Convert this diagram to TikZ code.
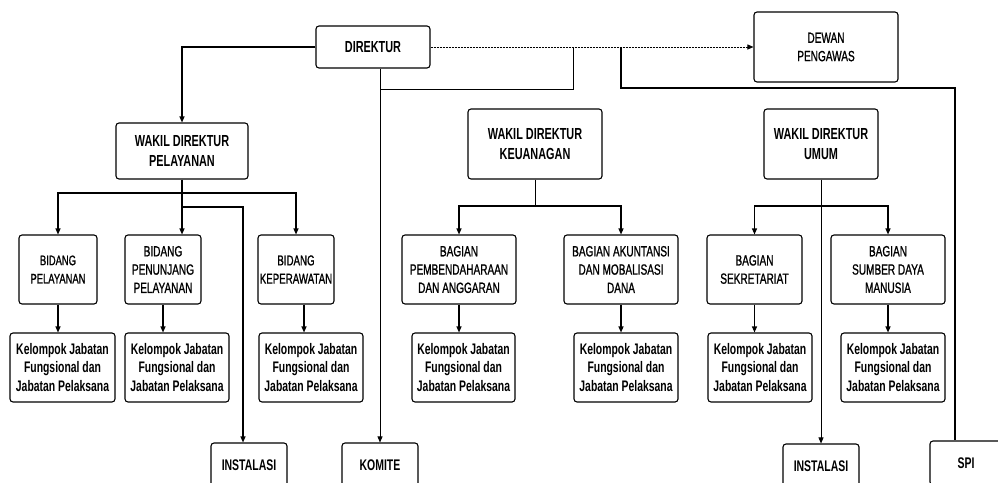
\documentclass[tikz,border=0pt]{standalone}
\usepackage{fontspec}
\setmainfont[FakeStretch=0.68]{Liberation Sans}
\newfontfamily\medfont[FakeStretch=0.68,FakeBold=1.0]{Liberation Sans}
\usetikzlibrary{arrows.meta}
\begin{document}
\begin{tikzpicture}[x=1pt,y=-1pt,
  box/.style={draw, line width=1.1pt, rounded corners=3pt, align=center, inner sep=1pt},
  hdr/.style={box, font=\fontsize{16}{19.3}\selectfont\bfseries},
  sub/.style={box, font=\medfont\fontsize{14.8}{18.3}\selectfont},
  kj/.style={box, font=\fontsize{15.3}{18.5}\selectfont\bfseries, minimum height=69pt},
  low/.style={hdr, minimum width=76pt, minimum height=44pt, font=\fontsize{15.4}{18}\selectfont\bfseries},
  conn/.style={line width=1.1pt},
  thinconn/.style={line width=0.7pt},
  arr/.style={-{Triangle[length=6pt,width=5pt]}},
  dots/.style={line width=0.9pt, dash pattern=on 2pt off 1pt},
]
\useasboundingbox (0,0) rectangle (998,482);
\fill[white] (0,0) rectangle (998,482);

% top level
\node[hdr, minimum width=114pt, minimum height=42pt] (dir) at (373,47) {DIREKTUR};
\node[sub, minimum width=144pt, minimum height=70pt] (dew) at (826,47) {DEWAN\\PENGAWAS};

% wakil direktur
\node[hdr, minimum width=132pt, minimum height=56pt] (wdp) at (182,151) {WAKIL DIREKTUR\\PELAYANAN};
\node[hdr, minimum width=134pt, minimum height=70pt] (wdk) at (535,144) {WAKIL DIREKTUR\\KEUANAGAN};
\node[hdr, minimum width=114pt, minimum height=70pt] (wdu) at (821,144) {WAKIL DIREKTUR\\UMUM};

% bidang / bagian
\node[sub, minimum width=78pt, minimum height=69pt, font=\medfont\fontsize{13.8}{18.3}\selectfont] (bp) at (58,269.5) {BIDANG\\PELAYANAN};
\node[sub, minimum width=76pt, minimum height=69pt] (bpp) at (163,269.5) {BIDANG\\PENUNJANG\\PELAYANAN};
\node[sub, minimum width=76pt, minimum height=69pt, inner sep=0pt, font=\medfont\fontsize{14.3}{18.3}\selectfont] (bk) at (296,269.5) {BIDANG\\KEPERAWATAN};
\node[sub, minimum width=114pt, minimum height=69pt] (bpa) at (459,269.5) {BAGIAN\\PEMBENDAHARAAN\\DAN ANGGARAN};
\node[sub, minimum width=114pt, minimum height=69pt] (bamd) at (621,269.5) {BAGIAN AKUNTANSI\\DAN MOBALISASI\\DANA};
\node[sub, minimum width=95pt, minimum height=69pt] (bs) at (754.5,269.5) {BAGIAN\\SEKRETARIAT};
\node[sub, minimum width=114pt, minimum height=69pt] (bsdm) at (888,269.5) {BAGIAN\\SUMBER DAYA\\MANUSIA};

% kelompok jabatan
\node[kj, minimum width=105pt] (kj1) at (62.5,367.5) {Kelompok Jabatan\\Fungsional dan\\Jabatan Pelaksana};
\node[kj, minimum width=104pt] (kj2) at (177,367.5) {Kelompok Jabatan\\Fungsional dan\\Jabatan Pelaksana};
\node[kj, minimum width=104pt] (kj3) at (311,367.5) {Kelompok Jabatan\\Fungsional dan\\Jabatan Pelaksana};
\node[kj, minimum width=103pt] (kj4) at (463.5,367.5) {Kelompok Jabatan\\Fungsional dan\\Jabatan Pelaksana};
\node[kj, minimum width=104pt] (kj5) at (626,367.5) {Kelompok Jabatan\\Fungsional dan\\Jabatan Pelaksana};
\node[kj, minimum width=104pt] (kj6) at (760,367.5) {Kelompok Jabatan\\Fungsional dan\\Jabatan Pelaksana};
\node[kj, minimum width=104pt] (kj7) at (893,367.5) {Kelompok Jabatan\\Fungsional dan\\Jabatan Pelaksana};

% bottom boxes
\node[low] (inst1) at (249,465) {INSTALASI};
\node[low] (komite) at (380,465) {KOMITE};
\node[low] (inst2) at (821,466) {INSTALASI};
\node[low, minimum width=72pt] (spi) at (966,463) {SPI};

% connectors from direktur
\draw[conn, arr] (dir.west) -| (wdp.north);
\draw[dots, -{Triangle[length=6pt,width=5pt]}] (dir.east) -- (dew.west);
\coordinate (d1) at (573,47);
\coordinate (d2) at (621,47);
\coordinate (r1) at (621,88);
\coordinate (s1) at ([xshift=-11pt]spi.north);
\draw[thinconn, arr] (dir.south -| komite.north) -- (komite.north);
\draw[thinconn] (komite.north |- 0,89) -| (d1);
\draw[conn] (d2) -- (r1) -| (s1);

% wakil direktur pelayanan
\coordinate (j1) at (wdp.south |- 0,193);
\coordinate (j2) at (wdp.south |- 0,207);
\coordinate (i1) at ([xshift=-6pt]inst1.north);
\draw[conn, arr] (wdp.south) -- (wdp.south |- bpp.north);
\draw[conn, arr] (j1) -| (bp.north);
\draw[conn, arr] (j1) -| (bk.north);
\draw[conn, arr] (j2) -| (i1);

% wakil direktur keuangan
\coordinate (k1) at (wdk.south |- 0,206);
\draw[thinconn] (wdk.south) -- (k1);
\draw[conn, arr] (k1) -| (bpa.north);
\draw[conn, arr] (k1) -| (bamd.north);

% wakil direktur umum
\coordinate (u1) at (wdu.south |- 0,206);
\draw[thinconn, arr] (wdu.south) -- (inst2.north);
\draw[conn, arr] (u1) -| (bs.north);
\draw[conn, arr] (u1) -| (bsdm.north);

% bidang -> kelompok
\draw[conn, arr] (bp.south) -- (bp.south |- kj1.north);
\draw[conn, arr] (bpp.south) -- (bpp.south |- kj2.north);
\draw[conn, arr] (bk.south -| 304,0) -- (kj3.north -| 304,0);
\draw[conn, arr] (bpa.south) -- (bpa.south |- kj4.north);
\draw[conn, arr] (bamd.south) -- (bamd.south |- kj5.north);
\draw[conn, arr] (bs.south) -- (bs.south |- kj6.north);
\draw[conn, arr] (bsdm.south) -- (bsdm.south |- kj7.north);
\end{tikzpicture}
\end{document}
